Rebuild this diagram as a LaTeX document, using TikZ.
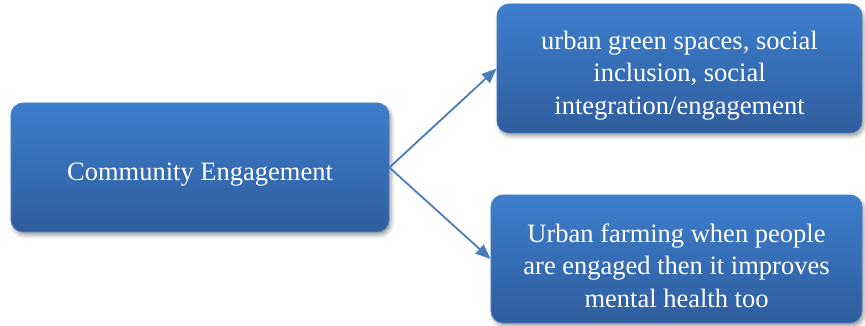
\documentclass[tikz,border=0pt]{standalone}
\usepackage{fontspec}
\setmainfont{Liberation Serif}
\usetikzlibrary{arrows.meta,shadows.blur}
\definecolor{boxtop}{RGB}{61,126,204}
\definecolor{boxbottom}{RGB}{47,93,158}
\definecolor{boxline}{RGB}{78,128,196}
\definecolor{arrowblue}{RGB}{74,126,187}
\newcommand\toplift{\rule{0pt}{32pt}}

\begin{document}
\begin{tikzpicture}[x=1pt, y=1pt,
    topicbox/.style={rectangle, rounded corners=12pt, draw=boxline, line width=0.8pt,
      top color=boxtop, bottom color=boxbottom, text=white, align=center,
      font=\fontsize{26.5}{32.5}\selectfont, inner sep=0pt,
      blur shadow={shadow xshift=2pt, shadow yshift=-3pt, shadow blur radius=4pt,
        shadow opacity=40}},
    link/.style={draw=arrowblue, line width=1.8pt,
      -{Triangle[length=15pt, width=12pt]}}]
    \useasboundingbox (0, 0) rectangle (865, 326);
    \node[topicbox, minimum width=378pt, minimum height=129pt] (engage) at (200, 158.5)
      {\toplift Community Engagement};
    \node[topicbox, minimum width=365pt, minimum height=129pt] (green) at (679.5, 257.5)
      {\toplift urban green spaces, social\\inclusion, social\\integration/engagement};
    \node[topicbox, minimum width=371pt, minimum height=128pt] (farm) at (676.5, 67)
      {\toplift Urban farming when people\\are engaged then it improves\\mental health too};
    \draw[link] (engage.east) -- (green.west);
    \draw[link] (engage.east) -- (farm.west);
  \end{tikzpicture}
\end{document}
